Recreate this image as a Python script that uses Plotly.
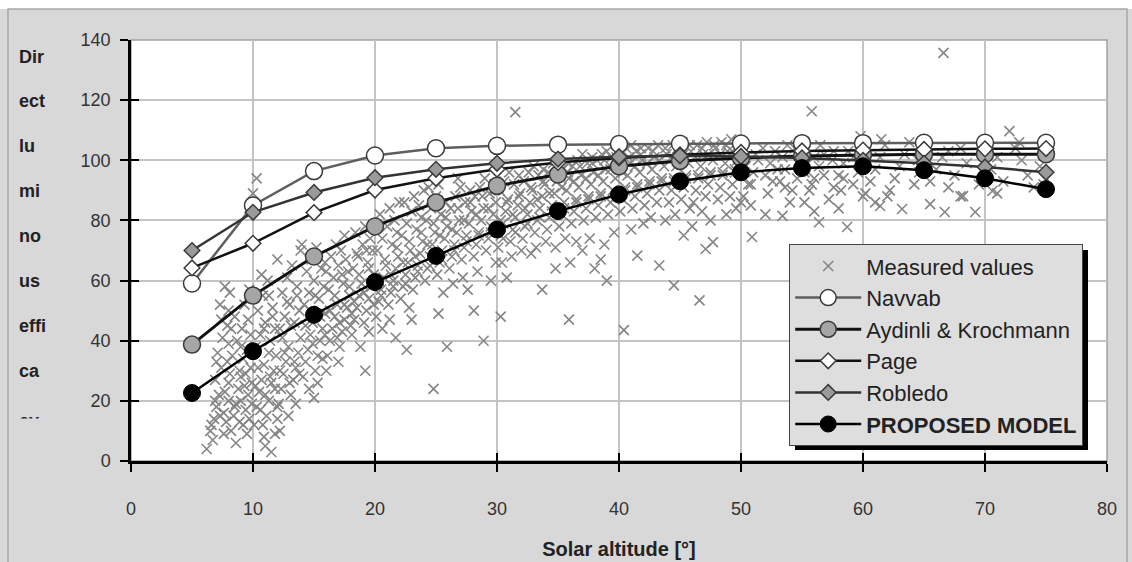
import plotly.graph_objects as go

# Solar altitude steps at which the models are evaluated
model_altitude = [5, 10, 15, 20, 25, 30, 35, 40, 45, 50, 55, 60, 65, 70, 75]

navvab = [59.0, 85.0, 96.4, 101.6, 104.0, 104.8, 105.2, 105.4, 105.5, 105.6, 105.7, 105.7, 105.8, 105.8, 105.8]
aydinli_krochmann = [38.7, 55.0, 68.0, 78.0, 86.0, 91.5, 95.3, 98.0, 99.8, 100.8, 101.4, 101.8, 102.0, 102.0, 102.0]
page = [64.2, 72.4, 82.6, 90.1, 94.0, 97.0, 99.3, 100.8, 101.8, 102.6, 103.1, 103.4, 103.6, 103.8, 103.9]
robledo = [70.0, 82.7, 89.3, 94.2, 97.0, 99.0, 100.4, 101.2, 101.5, 101.3, 100.8, 100.0, 99.0, 97.8, 96.0]
proposed_model = [22.6, 36.5, 48.6, 59.5, 68.2, 77.0, 83.1, 88.6, 93.0, 96.0, 97.4, 98.0, 96.7, 94.0, 90.4]

# Measured direct luminous efficacy [lm/W] against solar altitude [deg]
measured_altitude = [
    6.2, 6.5, 6.8, 7.0, 7.2, 6.9, 7.4, 7.6, 7.8, 7.1, 7.5, 7.9, 8.0, 7.3, 7.7, 8.0, 6.6, 7.9, 8.0, 7.6,
    8.2, 8.4, 8.6, 8.8, 9.0, 9.2, 9.4, 9.6, 9.8, 8.3, 8.7, 9.1, 9.5, 9.9, 8.5, 9.3, 9.7, 8.9, 9.5, 8.1, 9.0, 9.8, 9.2,
    6.7, 7.3, 7.7, 8.1, 8.5, 8.9, 9.3, 9.7, 7.0, 8.2, 9.0, 9.6, 8.6, 7.4, 9.9, 9.4, 8.0, 6.9,
    10.1, 10.3, 10.5, 10.7, 10.9, 11.1, 11.3, 11.5, 11.7, 11.9, 10.2, 10.6, 11.0, 11.4, 11.8, 10.4, 10.8, 11.2, 11.6,
    10.3, 10.0, 11.0, 11.5, 11.8, 12.0, 10.9, 11.3, 10.7,
    12.1, 12.3, 12.5, 12.7, 12.9, 13.1, 13.3, 13.5, 13.7, 13.9, 12.2, 12.6, 13.0, 13.4, 13.8, 12.4, 12.8, 13.2, 13.6,
    12.0, 13.9, 12.9, 13.5, 12.2,
    10.2, 10.6, 11.0, 11.4, 11.8, 12.2, 12.6, 13.0, 13.4, 13.8, 10.4, 10.9, 11.6, 12.4, 13.1, 12.8, 11.3, 13.6, 12.0,
    10.8,
    14.1, 14.3, 14.5, 14.7, 14.9, 15.1, 15.3, 15.5, 15.7, 15.9, 14.2, 14.6, 15.0, 15.4, 15.8, 14.4, 14.8, 15.2, 15.6,
    14.0, 15.0, 15.3, 14.6, 15.9,
    16.1, 16.3, 16.5, 16.7, 16.9, 17.1, 17.3, 17.5, 17.7, 17.9, 16.2, 16.6, 17.0, 17.4, 17.8, 16.4, 16.8, 17.2, 17.6,
    16.0, 17.0, 17.5, 18.0,
    18.1, 18.3, 18.5, 18.7, 18.9, 19.1, 19.3, 19.5, 19.7, 19.9, 18.2, 18.6, 19.0, 19.4, 19.8, 18.4, 19.2, 19.6, 19.2,
    18.8, 19.5,
    14.3, 14.7, 15.1, 15.5, 15.9, 16.3, 16.7, 17.1, 17.5, 17.9, 18.3, 18.7, 19.1, 19.5, 19.9, 14.9, 16.0, 17.3, 18.5,
    19.3, 15.7, 16.9, 18.1,
    20.1, 20.3, 20.5, 20.7, 20.9, 21.1, 21.3, 21.5, 21.7, 21.9, 20.2, 20.6, 21.0, 21.4, 21.8, 20.4, 21.2, 21.6, 22.0,
    20.6, 21.7, 21.2,
    22.1, 22.3, 22.5, 22.7, 22.9, 23.1, 23.3, 23.5, 23.7, 23.9, 22.2, 22.6, 23.0, 23.4, 23.8, 22.4, 23.2, 23.6, 22.6,
    23.0, 22.8, 24.0,
    24.1, 24.3, 24.5, 24.7, 24.9, 25.1, 25.3, 25.5, 25.7, 25.9, 24.2, 24.6, 25.0, 25.4, 25.8, 24.4, 25.2, 24.8, 25.2,
    25.9, 25.6,
    26.1, 26.3, 26.5, 26.7, 26.9, 27.1, 27.3, 27.5, 27.7, 27.9, 26.2, 26.6, 27.0, 27.4, 27.8, 26.4, 27.2, 28.1, 27.6,
    26.8,
    28.1, 28.3, 28.5, 28.7, 28.9, 29.1, 29.3, 29.5, 29.7, 29.9, 28.2, 28.6, 29.0, 29.4, 29.8, 28.9, 30.3, 29.5, 28.4,
    29.9,
    20.3, 20.8, 21.3, 21.8, 22.3, 22.8, 23.3, 23.8, 24.3, 24.8, 25.3, 25.8, 26.3, 26.8, 27.3, 27.8, 28.3, 28.8, 29.3,
    29.8, 20.5, 21.5, 22.5, 23.5, 24.5, 25.5, 26.5, 27.5, 28.5, 29.5,
    30.1, 30.3, 30.5, 30.7, 30.9, 31.1, 31.3, 31.5, 31.7, 31.9, 30.2, 30.6, 31.0, 31.4, 31.8, 31.5, 30.4, 31.2, 32.0,
    30.8,
    32.1, 32.3, 32.5, 32.7, 32.9, 33.1, 33.3, 33.5, 33.7, 33.9, 32.2, 32.6, 33.0, 33.4, 33.8, 33.7, 32.8, 33.2, 34.0,
    34.1, 34.3, 34.5, 34.7, 34.9, 35.1, 35.3, 35.5, 35.7, 35.9, 34.2, 34.6, 35.0, 35.4, 35.8, 34.8, 35.9, 34.8, 35.6,
    36.0,
    36.1, 36.3, 36.5, 36.7, 36.9, 37.1, 37.3, 37.5, 37.7, 37.9, 36.2, 36.6, 37.0, 37.4, 37.8, 37.0, 37.6, 38.0, 36.5,
    38.1, 38.3, 38.5, 38.7, 38.9, 39.1, 39.3, 39.5, 39.7, 39.9, 38.2, 38.6, 39.0, 39.4, 39.8, 39.0, 38.5, 39.6, 38.8,
    30.3, 30.8, 31.3, 31.8, 32.3, 32.8, 33.3, 33.8, 34.3, 34.8, 35.3, 35.8, 36.3, 36.8, 37.3, 37.8, 38.3, 38.8, 39.3,
    39.8, 30.5, 31.5, 32.5, 33.5, 34.5, 35.5, 36.5, 37.5, 38.5, 39.5,
    40.1, 40.3, 40.5, 40.7, 40.9, 41.1, 41.3, 41.5, 41.7, 41.9, 40.2, 40.6, 41.0, 41.4, 41.8, 40.4, 41.0, 41.5, 42.0,
    42.1, 42.3, 42.5, 42.7, 42.9, 43.1, 43.3, 43.5, 43.7, 43.9, 42.4, 43.2, 43.3, 42.6, 43.8,
    44.1, 44.3, 44.5, 44.7, 44.9, 45.1, 45.3, 45.5, 45.7, 45.9, 44.4, 45.2, 44.5, 45.3, 44.6, 46.0, 45.8,
    46.1, 46.3, 46.5, 46.7, 46.9, 47.1, 47.3, 47.5, 47.7, 47.9, 46.4, 47.2, 46.6, 47.1, 47.7, 47.5, 46.8,
    48.1, 48.3, 48.5, 48.7, 48.9, 49.1, 49.3, 49.5, 49.7, 49.9, 48.4, 49.2, 48.8, 49.6, 50.0,
    40.3, 40.8, 41.3, 41.8, 42.3, 42.8, 43.3, 43.8, 44.3, 44.8, 45.3, 45.8, 46.3, 46.8, 47.3, 47.8, 48.3, 48.8, 49.3,
    49.8, 40.5, 41.5, 42.5, 43.5, 44.5, 45.5, 46.5, 47.5, 48.5, 49.5,
    50.2, 50.6, 51.0, 51.4, 51.8, 52.2, 52.6, 53.0, 53.4, 53.8, 54.2, 54.6, 55.0, 50.9, 53.4, 52.0, 54.0, 55.8, 50.8,
    54.8, 53.6, 52.4,
    55.2, 55.6, 56.0, 56.4, 56.8, 57.2, 57.6, 58.0, 58.4, 58.8, 59.2, 59.6, 56.4, 58.7, 56.0, 58.0, 60.0, 56.5, 59.8,
    57.5,
    50.4, 51.2, 52.0, 52.8, 53.6, 54.4, 55.2, 56.0, 56.8, 57.6, 58.4, 59.2, 50.8, 53.2, 55.8, 58.2,
    60.2, 60.6, 61.0, 61.4, 61.8, 62.2, 62.6, 63.0, 63.4, 63.8, 64.2, 64.6, 61.4, 63.2, 61.0, 62.0, 64.5, 61.5,
    65.5, 66.0, 66.5, 67.0, 67.5, 68.0, 68.5, 69.2, 66.7, 66.6, 67.0, 69.5, 68.0, 70.0, 65.5, 68.2,
    70.5, 71.0, 71.5, 72.0, 72.5, 73.0, 73.5, 74.0, 74.5, 71.0, 72.8, 74.8, 70.6,
]
measured_efficacy = [
    4, 10, 14, 18, 22, 27, 31, 9, 13, 36, 41, 45, 20, 52, 58, 26, 12, 33, 39, 16,
    10, 15, 19, 24, 28, 12, 17, 22, 31, 35, 40, 44, 37, 26, 48, 52, 57, 30, 9, 56, 20, 42, 34,
    7, 15, 23, 29, 18, 13, 25, 14, 33, 44, 38, 47, 6, 47, 19, 29, 50, 20,
    12, 18, 23, 27, 32, 15, 20, 26, 30, 35, 38, 42, 46, 40, 44, 50, 55, 60, 51,
    94, 89, 5, 3, 9, 14, 8, 36, 62,
    19, 24, 29, 33, 38, 22, 27, 31, 36, 41, 44, 48, 52, 46, 50, 56, 61, 65, 58,
    67, 70, 15, 19, 10,
    25, 17, 22, 28, 24, 30, 36, 26, 33, 29, 31, 44, 48, 41, 45, 53, 55, 55, 18,
    12,
    28, 33, 37, 42, 46, 30, 35, 40, 44, 49, 52, 56, 60, 54, 58, 63, 67, 71, 64,
    72, 21, 26, 24, 66,
    35, 40, 44, 48, 52, 38, 43, 47, 51, 55, 57, 61, 65, 59, 63, 68, 72, 70, 67,
    30, 33, 75, 45,
    42, 47, 51, 55, 59, 46, 50, 54, 58, 62, 64, 68, 72, 66, 70, 76, 78, 74, 30,
    38, 43,
    45, 50, 55, 48, 42, 50, 55, 46, 52, 58, 53, 62, 56, 64, 52, 39, 63, 62, 69,
    70, 34, 41, 49,
    48, 53, 57, 61, 65, 52, 56, 60, 64, 68, 70, 74, 78, 72, 76, 82, 84, 80, 86,
    44, 41, 47,
    54, 58, 62, 66, 70, 57, 61, 65, 69, 73, 75, 79, 83, 77, 81, 86, 88, 85, 37,
    47, 51, 90,
    60, 64, 68, 72, 76, 62, 66, 70, 74, 78, 80, 84, 88, 82, 86, 91, 92, 24, 49,
    38, 56,
    64, 68, 72, 76, 80, 67, 71, 75, 79, 83, 84, 88, 91, 86, 90, 59, 61, 50, 57,
    94,
    68, 72, 76, 80, 84, 70, 74, 78, 82, 86, 88, 91, 94, 89, 92, 40, 48, 60, 63,
    66,
    60, 67, 62, 71, 66, 73, 68, 76, 72, 79, 75, 81, 77, 84, 80, 86, 82, 88, 84,
    90, 55, 58, 59, 63, 65, 67, 70, 73, 75, 76,
    71, 75, 79, 83, 87, 73, 77, 81, 85, 89, 90, 93, 96, 92, 95, 116, 66, 68, 70,
    61,
    74, 78, 82, 86, 90, 76, 80, 84, 88, 92, 93, 96, 98, 95, 97, 57, 69, 71, 73,
    77, 81, 85, 89, 93, 78, 82, 86, 90, 94, 96, 99, 100, 97, 99, 64, 47, 71, 74,
    66,
    79, 83, 87, 91, 95, 80, 84, 88, 92, 96, 98, 100, 102, 99, 101, 70, 74, 64, 73,
    81, 85, 89, 93, 97, 82, 86, 90, 94, 98, 100, 102, 103, 101, 103, 60, 67, 76, 72,
    80, 86, 82, 88, 84, 91, 87, 93, 89, 95, 91, 96, 93, 98, 94, 99, 95, 100, 97,
    101, 74, 76, 79, 81, 83, 84, 86, 87, 88, 90,
    83, 87, 91, 95, 99, 84, 88, 92, 96, 100, 102, 104, 105, 103, 104, 43.5, 77, 68.3, 79,
    85, 89, 93, 97, 101, 86, 90, 94, 98, 102, 104, 105, 65, 81, 80,
    86, 90, 94, 98, 102, 87, 91, 95, 99, 103, 105, 106, 58.4, 75, 82, 78, 84,
    86, 90, 94, 98, 102, 88, 92, 96, 100, 104, 105, 106, 53.4, 70.5, 72.8, 80, 83,
    87, 91, 95, 99, 103, 88, 92, 96, 100, 104, 106, 107, 82, 84, 86,
    96, 101, 98, 102, 99, 103, 100, 104, 101, 104, 102, 105, 101, 104, 102, 105, 102, 105, 103,
    106, 90, 91, 92, 93, 93, 94, 95, 95, 96, 97,
    88, 92, 96, 100, 104, 89, 93, 97, 101, 105, 90, 94, 98, 74.5, 81.5, 82, 86, 116.3, 85,
    102, 91, 99,
    86, 90, 94, 98, 102, 87, 91, 95, 99, 103, 92, 96, 79.4, 77.8, 83, 84, 88, 105, 108,
    100,
    98, 102, 95, 103, 97, 104, 96, 101, 95, 103, 94, 101, 92, 93, 92, 90,
    89, 93, 97, 101, 105, 90, 94, 98, 102, 106, 92, 96, 84.8, 83.8, 86, 88, 100, 107,
    93, 97, 101, 91, 95, 88, 99, 82.8, 82.8, 135.7, 103, 92, 104, 96, 85.4, 88.1,
    97, 101, 93, 109.7, 104, 100, 95, 91, 98, 89, 106, 92, 89.8,
]

x_ticks = [0, 10, 20, 30, 40, 50, 60, 70, 80]
y_ticks = [0, 20, 40, 60, 80, 100, 120, 140]
y_title_parts = ["Dir", "ect", "lu", "mi", "no", "us", "effi", "ca", "cy"]

FONT = "Liberation Sans, Arial, sans-serif"
BG = "#d8d8d8"

fig = go.Figure()

fig.add_trace(go.Scatter(
    x=measured_altitude, y=measured_efficacy, mode="markers", name="Measured values",
    marker=dict(symbol="x-thin", size=10, color="#858585", line=dict(width=1.6, color="#858585")),
))
fig.add_trace(go.Scatter(
    x=model_altitude, y=navvab, mode="lines+markers", name="Navvab",
    line=dict(color="#5e5e5e", width=2.5),
    marker=dict(symbol="circle", size=17, color="white", line=dict(color="#3a3a3a", width=1.5)),
))
fig.add_trace(go.Scatter(
    x=model_altitude, y=aydinli_krochmann, mode="lines+markers", name="Aydinli & Krochmann",
    line=dict(color="#111111", width=3),
    marker=dict(symbol="circle", size=17, color="#a6a6a6", line=dict(color="#3a3a3a", width=1.5)),
))
fig.add_trace(go.Scatter(
    x=model_altitude, y=page, mode="lines+markers", name="Page",
    line=dict(color="#111111", width=2.5),
    marker=dict(symbol="diamond", size=12, color="white", line=dict(color="#3a3a3a", width=1.5)),
))
fig.add_trace(go.Scatter(
    x=model_altitude, y=robledo, mode="lines+markers", name="Robledo",
    line=dict(color="#333333", width=2.5),
    marker=dict(symbol="diamond", size=12, color="#9a9a9a", line=dict(color="#3a3a3a", width=1.5)),
))
fig.add_trace(go.Scatter(
    x=model_altitude, y=proposed_model, mode="lines+markers", name="<b>PROPOSED MODEL</b>",
    line=dict(color="#000000", width=2.5),
    marker=dict(symbol="circle", size=17, color="#000000", line=dict(color="#000000", width=1)),
))
# empty trace that carries the inner half of the crossing tick marks
fig.add_trace(go.Scatter(x=[], y=[], xaxis="x2", yaxis="y2", showlegend=False, hoverinfo="skip"))

W, H = 1132, 562
L, R, T, B = 131, 25, 40, 101
pw, ph = W - L - R, H - T - B


def px_x(p):
    return (p - L) / pw


def px_y(p):
    return (H - B - p) / ph


axis_common = dict(showline=True, linecolor="#000000", linewidth=2.5, ticks="outside",
                   ticklen=8, tickwidth=2, tickcolor="#000000", automargin=False,
                   tickfont=dict(family=FONT, size=18, color="#333333"), zeroline=False)

fig.update_layout(
    width=W, height=H,
    margin=dict(l=L, r=R, t=T, b=B, autoexpand=False),
    paper_bgcolor=BG, plot_bgcolor="white",
    showlegend=True,
    xaxis=dict(range=[0, 80], tickvals=x_ticks, showgrid=True, gridcolor="#c4c4c4", gridwidth=1.5,
               ticklabelstandoff=22,
               title=dict(text="<b>Solar altitude [°]</b>", font=dict(family=FONT, size=20, color="#222222"),
                          standoff=24),
               **axis_common),
    yaxis=dict(range=[0, 140], tickvals=y_ticks, showgrid=True, gridcolor="#c4c4c4", gridwidth=1.5,
               ticklabelstandoff=6, **axis_common),
    xaxis2=dict(overlaying="x", anchor="y2", range=[0, 80], tickvals=x_ticks, ticks="inside",
                ticklen=8, tickwidth=2, tickcolor="#000000", showticklabels=False,
                showgrid=False, showline=False, zeroline=False, automargin=False),
    yaxis2=dict(overlaying="y", anchor="x2", range=[0, 140], tickvals=y_ticks, ticks="inside",
                ticklen=8, tickwidth=2, tickcolor="#000000", showticklabels=False,
                showgrid=False, showline=False, zeroline=False, automargin=False),
    legend=dict(x=px_x(789), y=px_y(244), xanchor="left", yanchor="top",
                bgcolor="#dedede", bordercolor="#444444", borderwidth=1.2,
                font=dict(family=FONT, size=22, color="#222222"),
                itemwidth=66, tracegroupgap=0),
)

shapes = [
    # white strip above the chart frame
    dict(type="rect", xref="paper", yref="paper", x0=px_x(0), x1=px_x(W), y0=px_y(9), y1=px_y(0),
         fillcolor="white", line=dict(width=0), layer="below"),
    # outer chart frame
    dict(type="rect", xref="paper", yref="paper", x0=px_x(8), x1=px_x(1127), y0=px_y(575), y1=px_y(9),
         fillcolor="rgba(0,0,0,0)", line=dict(color="#a8a8a8", width=1.5), layer="below"),
    # plot area border
    dict(type="rect", xref="paper", yref="paper", x0=0, x1=1, y0=0, y1=1,
         fillcolor="rgba(0,0,0,0)", line=dict(color="#a0a0a0", width=1.5), layer="below"),
    # legend drop shadow
    dict(type="rect", xref="paper", yref="paper", x0=px_x(795), x1=px_x(1088), y0=px_y(450), y1=px_y(250),
         fillcolor="#000000", line=dict(width=0), layer="above"),
]
fig.update_layout(shapes=shapes)

# y-axis title, broken into short stacked pieces
title_rows = [57, 101, 146, 191, 236, 281, 326, 371, 421]
for part, py in zip(y_title_parts, title_rows):
    fig.add_annotation(text=f"<b>{part}</b>", xref="paper", yref="paper", x=px_x(17), y=px_y(py),
                       xanchor="left", yanchor="middle", showarrow=False,
                       font=dict(family=FONT, size=18, color="#222222"))
# the title box clips the last piece
fig.add_annotation(text=" ", xref="paper", yref="paper", x=px_x(12), y=px_y(418),
                   xanchor="left", yanchor="top", showarrow=False, width=50, height=20,
                   bgcolor=BG, borderpad=0, font=dict(size=10))

fig.write_html("out.html")
